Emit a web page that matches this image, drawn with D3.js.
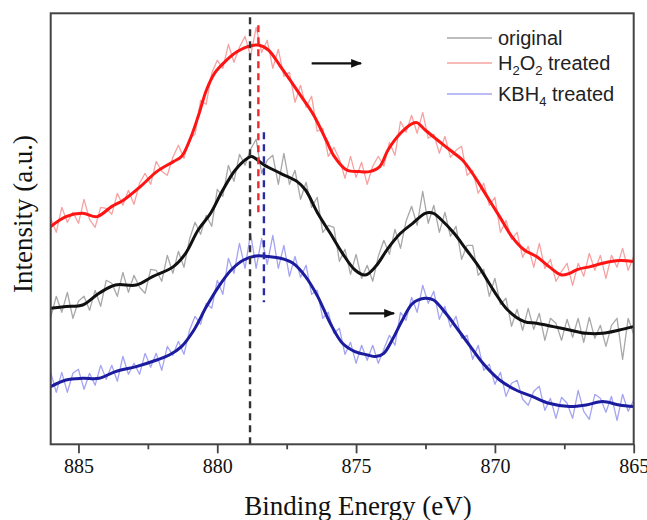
<!DOCTYPE html>
<html><head><meta charset="utf-8">
<script src="https://cdn.jsdelivr.net/npm/d3@7"></script>
<style>body{margin:0;background:#fff}svg{display:block}</style>
</head><body>
<script>
// ---- data ----
const energyStart = 886, energyStep = -0.2; // raw spectra sampled every 0.2 eV from 886 to 865
const rawOriginal = [127,148,132,152,126,143,148,134,154,138,164,161,148,172,152,169,157,151,175,174,163,189,171,193,177,205,222,210,229,218,255,248,279,263,290,279,295,305,271,284,289,260,291,260,274,245,262,237,247,212,219,217,183,195,170,190,166,179,163,188,204,190,215,196,223,238,219,253,221,239,212,232,208,218,185,199,199,169,175,148,166,140,146,118,135,114,136,115,131,104,126,121,104,125,107,126,102,127,106,119,98,119,126,85,126,110];
const rawH2O2 = [226,212,237,222,232,221,245,225,217,237,236,230,251,239,254,240,261,271,260,283,273,269,287,299,286,306,310,344,340,371,384,376,400,382,397,408,388,417,392,404,376,395,368,372,342,359,337,348,313,316,288,297,285,266,288,267,282,260,278,288,278,302,289,323,312,329,311,332,306,310,291,308,287,294,298,269,274,251,261,239,247,212,224,205,212,187,198,177,201,176,185,163,173,181,159,181,168,191,174,189,166,189,177,196,174,188];
const rawKBH4 = [72,52,72,52,71,75,55,71,59,79,65,79,63,88,70,81,70,91,77,91,74,98,89,103,90,114,128,120,141,136,164,150,186,171,201,176,211,176,206,180,209,176,199,168,188,167,179,150,154,126,132,111,116,90,102,81,99,84,99,81,95,109,99,132,124,147,132,159,141,153,125,138,117,128,106,109,85,99,74,80,60,72,48,61,64,45,39,53,58,34,46,26,47,41,26,54,33,25,50,46,32,48,24,50,33,44];

// smoothed curves: [binding energy, intensity]
const smoothOriginal = [[886.0,136],[885.45,137.7],[884.85,139.3],[884.26,151],[883.67,159.3],[882.92,159.3],[882.33,167.7],[881.58,177.7],[881.14,191],[880.69,214.3],[880.24,231],[879.80,254.3],[879.35,274.3],[878.91,286],[878.76,287.7],[878.31,279.3],[877.72,271],[877.12,262.7],[876.82,254.3],[876.38,231],[875.93,211],[875.49,191],[875.04,174.3],[874.67,169.3],[874.30,177.7],[873.85,196],[873.40,211],[872.96,221],[872.51,231],[872.21,231],[871.92,224.3],[871.47,211],[871.02,194.3],[870.58,177.7],[869.98,151],[869.54,134.3],[868.94,122.7],[868.50,121],[867.90,117.7],[867.31,114.3],[866.71,111],[866.12,111],[865.52,114.3],[865.00,117.7]];
const smoothH2O2 = [[886.0,217.7],[885.45,227.7],[884.85,231],[884.33,227.7],[883.81,237.7],[883.37,244.3],[882.77,257.7],[882.18,272.7],[881.58,282.7],[881.29,287.7],[880.99,304.3],[880.69,327.7],[880.39,354.3],[880.10,371],[879.72,382.7],[879.28,392.7],[878.91,397.7],[878.53,399.3],[878.16,394.3],[877.72,377.7],[877.42,366],[876.97,347.7],[876.53,329.3],[876.08,304.3],[875.78,287.7],[875.34,274.3],[874.89,272.7],[874.52,272.7],[874.15,277.7],[873.85,294.3],[873.40,311],[872.96,321],[872.81,321.7],[872.51,314.3],[872.07,304.3],[871.62,294.3],[871.17,284.3],[870.73,267.7],[870.28,247.7],[869.83,227.7],[869.39,207.7],[868.94,194.3],[868.50,187.7],[868.05,177.7],[867.60,169.3],[867.31,171],[867.01,175],[866.56,177.7],[866.12,181],[865.52,183.7],[865.00,182.7]];
const smoothKBH4 = [[886.0,57.7],[885.45,64.3],[884.85,66],[884.26,66],[883.67,72.7],[882.92,77.7],[882.18,84.3],[881.73,89.3],[881.29,97.7],[880.84,114.3],[880.39,137.7],[879.95,157.7],[879.50,174.3],[879.05,184.3],[878.61,188.3],[878.16,187.7],[877.72,186],[877.27,181],[876.82,167.7],[876.38,147.7],[875.93,121],[875.49,101],[875.04,92.7],[874.59,89.3],[874.30,87.7],[874.00,91],[873.70,104.3],[873.33,124.3],[872.96,141],[872.51,146],[872.21,144.3],[871.77,131],[871.32,114.3],[870.88,97.7],[870.43,81],[869.83,64.3],[869.24,54.3],[868.64,47.7],[868.05,41],[867.31,37.7],[866.71,39.3],[866.12,42.7],[865.52,39.3],[865.00,37.7]];

// peak marker lines: energy, top intensity, bottom intensity
const markerNames = ["original","H2O2","KBH4"];
const markerEnergy = [878.82, 878.52, 878.32];
const markerTop = [427, 419, 312];
const markerBottom = [0, 231, 142];

// shift arrows: [fromE, toE, intensity]
const arrows = [[876.60, 874.75, 381], [875.25, 873.56, 131]];

const xTicks = [885, 880, 875, 870, 865];
const xMinorTicks = [882.5, 877.5, 872.5, 867.5];
const legendLabels = [["original"], ["H","2","O","2"," treated"], ["KBH","4"," treated"]];

// ---- layout ----
const W = 647, H = 520;
const m = {left: 50.7, right: 633.7, top: 13.3, bottom: 444.3};
const svg = d3.select("body").append("svg").attr("width", W).attr("height", H);

const x = d3.scaleLinear().domain([886, 865]).range([m.left, m.right]);
const y = d3.scaleLinear().domain([0, 431]).range([m.bottom, m.top]);

const toRaw = arr => arr.map((v, i) => [energyStart + i * energyStep, v]);
const lineRaw = d3.line().x(d => x(d[0])).y(d => y(d[1]));
const lineSmooth = d3.line().x(d => x(d[0])).y(d => y(d[1])).curve(d3.curveCatmullRom.alpha(0.5));

svg.append("clipPath").attr("id","c").append("rect")
  .attr("x", m.left).attr("y", m.top).attr("width", m.right - m.left).attr("height", m.bottom - m.top);
const g = svg.append("g").attr("clip-path","url(#c)");

const series = [
  {raw: rawH2O2, smooth: smoothH2O2, light: "#f6a2a2", dark: "#ff1414"},
  {raw: rawOriginal, smooth: smoothOriginal, light: "#a8a8a8", dark: "#111111"},
  {raw: rawKBH4, smooth: smoothKBH4, light: "#a4a4f2", dark: "#1c1c9e"}
];
series.forEach(s => {
  g.append("path").attr("d", lineRaw(toRaw(s.raw))).attr("fill","none")
    .attr("stroke", s.light).attr("stroke-width", 1.3).attr("stroke-linejoin","round");
});
series.forEach(s => {
  g.append("path").attr("d", lineSmooth(s.smooth)).attr("fill","none")
    .attr("stroke", s.dark).attr("stroke-width", 3).attr("stroke-linejoin","round");
});

// dashed markers
const markerColors = ["#333333", "#ee2a2a", "#2a2aa8"];
markerEnergy.forEach((e, i) => {
  svg.append("line").attr("x1", x(e)).attr("x2", x(e))
    .attr("y1", y(markerTop[i])).attr("y2", y(markerBottom[i]))
    .attr("stroke", markerColors[i]).attr("stroke-width", 2.4)
    .attr("stroke-dasharray", "7,5");
});

// arrows
svg.append("defs").append("marker").attr("id","ah").attr("viewBox","0 0 10 10")
  .attr("refX", 9).attr("refY", 5).attr("markerWidth", 6).attr("markerHeight", 5)
  .attr("markerUnits","strokeWidth").attr("orient","auto")
  .append("path").attr("d","M0,1 L10,5 L0,9 Z").attr("fill","#111");
arrows.forEach(a => {
  svg.append("line").attr("x1", x(a[0])).attr("x2", x(a[1]) - 2)
    .attr("y1", y(a[2])).attr("y2", y(a[2]))
    .attr("stroke","#111").attr("stroke-width", 2.2).attr("marker-end","url(#ah)");
});

// frame
svg.append("rect").attr("x", m.left).attr("y", m.top)
  .attr("width", m.right - m.left).attr("height", m.bottom - m.top)
  .attr("fill","none").attr("stroke","#444").attr("stroke-width", 2);

// x axis
const axis = svg.append("g").attr("transform", `translate(0,${m.bottom})`)
  .call(d3.axisBottom(x).tickValues(xTicks).tickSize(9).tickPadding(6).tickFormat(d3.format("d")));
axis.select(".domain").remove();
axis.selectAll(".tick line").attr("stroke","#444").attr("stroke-width", 1.8);
axis.selectAll(".tick text").attr("font-family","'Liberation Serif', 'Times New Roman', serif")
  .attr("font-size", 20).attr("fill","#111");
const minor = svg.append("g").attr("transform", `translate(0,${m.bottom})`)
  .call(d3.axisBottom(x).tickValues(xMinorTicks).tickSize(5).tickFormat(""));
minor.select(".domain").remove();
minor.selectAll(".tick line").attr("stroke","#444").attr("stroke-width", 1.8);

// titles
svg.append("text").attr("x", 358).attr("y", 515).attr("text-anchor","middle")
  .attr("font-family","'Liberation Serif', 'Times New Roman', serif").attr("font-size", 27)
  .attr("fill","#111").text("Binding Energy (eV)");
svg.append("text").attr("transform","translate(32,214) rotate(-90)").attr("text-anchor","middle")
  .attr("font-family","'Liberation Serif', 'Times New Roman', serif").attr("font-size", 27)
  .attr("fill","#111").text("Intensity (a.u.)");

// legend
const legendColors = ["#a8a8a8", "#f6a2a2", "#a4a4f2"];
const legendY = [38, 63, 94];
legendLabels.forEach((parts, i) => {
  svg.append("line").attr("x1", 447).attr("x2", 492).attr("y1", legendY[i]).attr("y2", legendY[i])
    .attr("stroke", legendColors[i]).attr("stroke-width", 1.5);
  const t = svg.append("text").attr("x", 498).attr("y", legendY[i] + 7)
    .attr("font-family","'Liberation Sans', Arial, sans-serif").attr("font-size", 20).attr("fill","#222");
  let prevSub = false;
  parts.forEach(p => {
    const sub = /^\d$/.test(p);
    const dy = sub && !prevSub ? 5 : (!sub && prevSub ? -5 : 0);
    t.append("tspan").attr("font-size", sub ? 13 : 20).attr("dy", dy).text(p);
    prevSub = sub;
  });
});
</script>
</body></html>
